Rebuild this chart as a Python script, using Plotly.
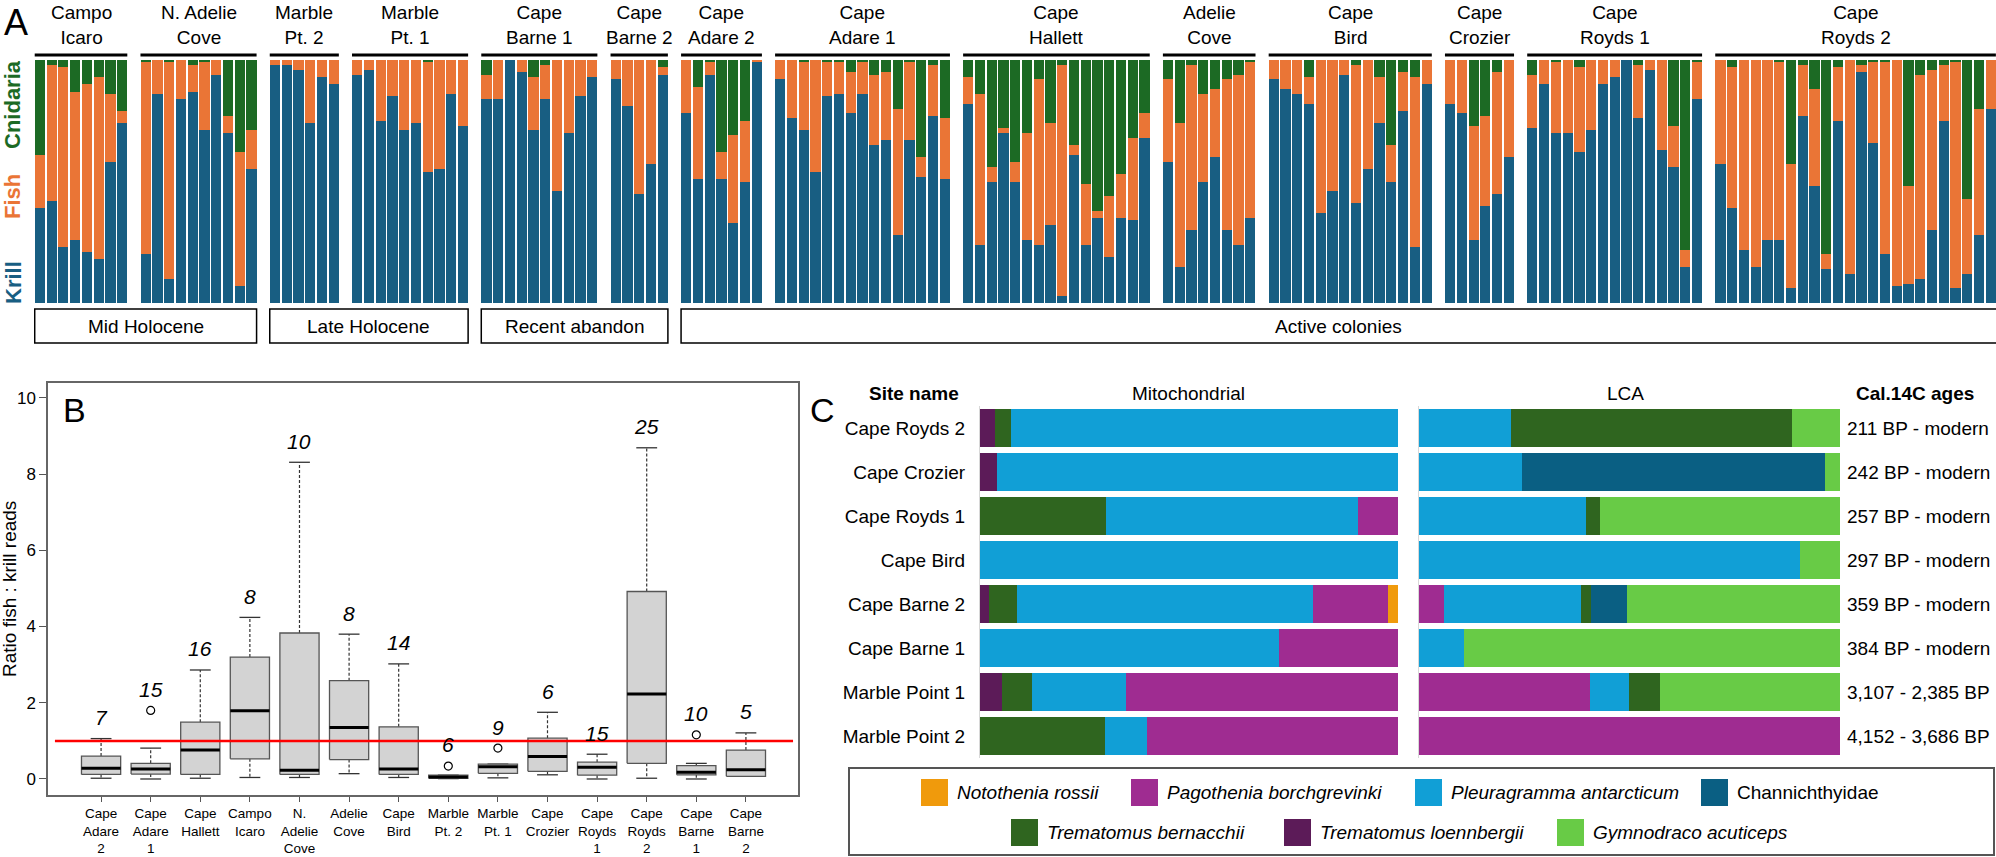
import plotly.graph_objects as go

W, H = 1996, 857
FONT = "Liberation Sans, Arial, sans-serif"

# ── Panel A: diet proportions (%) per sample, grouped by site ────────────────
A_SITES = ["Campo<br>Icaro", "N. Adelie<br>Cove", "Marble<br>Pt. 2", "Marble<br>Pt. 1",
           "Cape<br>Barne 1", "Cape<br>Barne 2", "Cape<br>Adare 2", "Cape<br>Adare 1",
           "Cape<br>Hallett", "Adelie<br>Cove", "Cape<br>Bird", "Cape<br>Crozier",
           "Cape<br>Royds 1", "Cape<br>Royds 2"]

KRILL = [
    [39, 42, 23, 26, 21, 18, 58, 74],
    [20, 86, 10, 84, 87, 71, 94, 70, 7, 55],
    [98, 98, 96, 74, 93, 90],
    [94, 96, 75, 85, 71, 74, 54, 55, 86, 73],
    [84, 84, 100, 95, 71, 84, 46, 70, 85, 93],
    [92, 81, 45, 57, 94],
    [78, 51, 94, 51, 33, 50, 99],
    [92, 76, 71, 54, 85, 86, 78, 86, 65, 67, 28, 67, 52, 77, 51],
    [82, 24, 50, 70, 50, 26, 24, 32, 3, 61, 24, 35, 19, 35, 34, 68],
    [58, 15, 30, 50, 60, 30, 24, 35],
    [92, 88, 86, 82, 37, 46, 94, 41, 55, 74, 50, 79, 23, 90],
    [82, 78, 26, 40, 45, 60],
    [72, 90, 70, 70, 62, 71, 90, 93, 100, 76, 96, 63, 56, 15, 84],
    [57, 39, 22, 15, 26, 26, 6, 77, 48, 14, 75, 12, 95, 66, 20, 7, 8, 10, 30, 75, 6, 12, 28, 80],
]
FISH = [
    [22, 56, 74, 61, 69, 75, 28, 5],
    [79, 14, 89, 16, 11, 28, 6, 7, 55, 16],
    [2, 2, 4, 26, 7, 10],
    [6, 4, 25, 15, 29, 26, 45, 45, 14, 27],
    [10, 16, 0, 5, 22, 14, 54, 30, 15, 7],
    [8, 19, 55, 43, 3],
    [22, 38, 5, 11, 36, 25, 1],
    [8, 24, 28, 46, 14, 13, 17, 13, 29, 28, 52, 32, 8, 21, 25],
    [11, 62, 6, 2, 8, 44, 68, 42, 95, 4, 25, 3, 25, 18, 34, 10],
    [34, 59, 68, 36, 28, 62, 70, 64],
    [8, 12, 14, 11, 63, 54, 6, 57, 45, 19, 15, 16, 70, 10],
    [18, 22, 47, 37, 50, 40],
    [22, 10, 29, 30, 35, 29, 10, 7, 0, 22, 4, 37, 17, 7, 15],
    [43, 58, 78, 85, 74, 73, 51, 21, 40, 6, 22, 88, 3, 33, 79, 93, 40, 84, 66, 23, 93, 31, 52, 20],
]
CNIDARIA = [
    [39, 2, 3, 13, 10, 7, 14, 21],
    [1, 0, 1, 0, 2, 1, 0, 23, 38, 29],
    [0, 0, 0, 0, 0, 0],
    [0, 0, 0, 0, 0, 0, 1, 0, 0, 0],
    [6, 0, 0, 0, 7, 2, 0, 0, 0, 0],
    [0, 0, 0, 0, 3],
    [0, 11, 1, 38, 31, 25, 0],
    [0, 0, 1, 0, 1, 1, 5, 1, 6, 5, 20, 1, 40, 2, 24],
    [7, 14, 44, 28, 42, 30, 8, 26, 2, 35, 51, 62, 56, 47, 32, 22],
    [8, 26, 2, 14, 12, 8, 6, 1],
    [0, 0, 0, 7, 0, 0, 0, 2, 0, 7, 35, 5, 7, 0],
    [0, 0, 27, 23, 5, 0],
    [6, 0, 1, 0, 3, 0, 0, 0, 0, 2, 0, 0, 27, 78, 1],
    [0, 3, 0, 0, 0, 1, 43, 2, 12, 80, 3, 0, 2, 1, 1, 0, 52, 6, 4, 2, 1, 57, 20, 0],
]
PERIODS = ["Mid Holocene", "Late Holocene", "Recent abandon", "Active colonies"]
PERIOD_NSITES = [2, 2, 2, 8]

# ── Panel B: fish:krill ratio box statistics ─────────────────────────────────
B_SITES = ["Cape<br>Adare<br>2", "Cape<br>Adare<br>1", "Cape<br>Hallett", "Campo<br>Icaro",
           "N.<br>Adelie<br>Cove", "Adelie<br>Cove", "Cape<br>Bird", "Marble<br>Pt. 2",
           "Marble<br>Pt. 1", "Cape<br>Crozier", "Cape<br>Royds<br>1", "Cape<br>Royds<br>2",
           "Cape<br>Barne<br>1", "Cape<br>Barne<br>2"]
B_LOWER = [0.02, 0.00, 0.02, 0.04, 0.04, 0.14, 0.04, 0.01, 0.03, 0.11, 0.00, 0.02, 0.00, 0.07]
B_Q1 = [0.12, 0.13, 0.12, 0.53, 0.12, 0.51, 0.12, 0.02, 0.15, 0.20, 0.10, 0.41, 0.11, 0.07]
B_MEDIAN = [0.28, 0.26, 0.76, 1.79, 0.23, 1.35, 0.26, 0.05, 0.32, 0.59, 0.31, 2.23, 0.18, 0.24]
B_Q3 = [0.60, 0.41, 1.49, 3.20, 3.83, 2.58, 1.37, 0.10, 0.39, 1.07, 0.44, 4.92, 0.35, 0.76]
B_UPPER = [1.06, 0.81, 2.86, 4.24, 8.31, 3.80, 3.02, 0.10, 0.39, 1.75, 0.65, 8.69, 0.41, 1.21]
B_N = [7, 15, 16, 8, 10, 8, 14, 6, 9, 6, 15, 25, 10, 5]
B_OUTLIER_SITE = [1, 7, 8, 12]
B_OUTLIER_VAL = [1.80, 0.34, 0.81, 1.16]

# ── Panel C: fish taxa composition (%) ───────────────────────────────────────
C_SITES = ["Cape Royds 2", "Cape Crozier", "Cape Royds 1", "Cape Bird",
           "Cape Barne 2", "Cape Barne 1", "Marble Point 1", "Marble Point 2"]
C_AGES = ["211 BP - modern", "242 BP - modern", "257 BP - modern", "297 BP - modern",
          "359 BP - modern", "384 BP - modern", "3,107 - 2,385 BP", "4,152 - 3,686 BP"]

MITO_LOENNBERGII = [3.6, 4.1, 0, 0, 2.2, 0, 5.3, 0]
MITO_BERNACCHII = [3.7, 0, 30.1, 0, 6.7, 0, 7.1, 30.0]
MITO_PLEURAGRAMMA = [92.7, 95.9, 60.4, 100, 70.7, 71.5, 22.5, 10.0]
MITO_PAGOTHENIA = [0, 0, 9.5, 0, 18.0, 28.5, 65.1, 60.0]
MITO_ROSSII = [0, 0, 0, 0, 2.4, 0, 0, 0]

LCA_PAGOTHENIA = [0, 0, 0, 0, 6.0, 0, 40.7, 100]
LCA_PLEURAGRAMMA = [21.9, 24.4, 39.7, 90.5, 32.5, 10.7, 9.2, 0]
LCA_BERNACCHII = [66.8, 0, 3.4, 0, 2.3, 0, 7.3, 0]
LCA_CHANNICHTHYIDAE = [0, 72.1, 0, 0, 8.7, 0, 0, 0]
LCA_GYMNODRACO = [11.3, 3.5, 56.9, 9.5, 50.5, 89.3, 42.8, 0]

# ── Colours ──────────────────────────────────────────────────────────────────
COL_KRILL, COL_FISH, COL_CNID = "#185E82", "#EA7536", "#1C6A24"
TAXA = {
    "rossii":       ("<i>Notothenia rossii</i>", "#F09A0C"),
    "pagothenia":   ("<i>Pagothenia borchgrevinki</i>", "#9F2C91"),
    "pleuragramma": ("<i>Pleuragramma antarcticum</i>", "#119FD6"),
    "channi":       ("Channichthyidae", "#0A5F83"),
    "bernacchii":   ("<i>Trematomus bernacchii</i>", "#2F651F"),
    "loennbergii":  ("<i>Trematomus loennbergii</i>", "#5C1B58"),
    "gymnodraco":   ("<i>Gymnodraco acuticeps</i>", "#68CB46"),
}


def px_x(v):
    return v / W


def px_y(v):
    return 1 - v / H


def note(text, x, y, xref="paper", yref="paper", xanchor="center", yanchor="middle", **kw):
    return dict(text=text, x=x, y=y, xref=xref, yref=yref, xanchor=xanchor,
                yanchor=yanchor, showarrow=False, **kw)


fig = go.Figure()
shapes, annots = [], []

# ── Panel A ─────────────────────────────────────────────────────────────────
pos, kr, fi, cn, starts, ends = [], [], [], [], [], []
start = 0
for k, f, c in zip(KRILL, FISH, CNIDARIA):
    starts.append(start)
    pos += [start + i for i in range(len(k))]
    kr += k
    fi += f
    cn += c
    ends.append(start + len(k) - 1)
    start += len(k) + 1

for vals, col in [(kr, COL_KRILL), (fi, COL_FISH), (cn, COL_CNID)]:
    fig.add_trace(go.Bar(x=pos, y=vals, marker=dict(color=col, line_width=0),
                         xaxis="x", yaxis="y", showlegend=False))

for name, s, e in zip(A_SITES, starts, ends):
    shapes.append(dict(type="line", xref="x", yref="paper", x0=s - 0.44, x1=e + 0.44,
                       y0=px_y(55), y1=px_y(55), line=dict(color="black", width=3)))
    annots.append(note(name, (s + e) / 2, px_y(50), xref="x", yanchor="bottom",
                       font=dict(size=19)))

si = 0
for label, n in zip(PERIODS, PERIOD_NSITES):
    x0, x1 = starts[si] - 0.44, ends[si + n - 1] + 0.44
    last = si + n == len(starts)
    shapes.append(dict(type="rect", xref="x", yref="paper", x0=x0, x1=x1 + (3 if last else 0),
                       y0=px_y(343), y1=px_y(309), line=dict(color="black", width=1.5)))
    annots.append(note(label, (x0 + x1) / 2, px_y(326), xref="x", font=dict(size=19)))
    si += n

for txt, col, yc in [("Cnidaria", COL_CNID, 105), ("Fish", COL_FISH, 197), ("Krill", COL_KRILL, 283)]:
    annots.append(note(f"<b>{txt}</b>", px_x(13), px_y(yc), textangle=-90,
                       font=dict(size=22, color=col)))
annots.append(note("A", px_x(2), px_y(0), xanchor="left", yanchor="top", font=dict(size=36)))

# ── Panel B ─────────────────────────────────────────────────────────────────
HW, CAP = 0.395, 0.21
bx, by, wx, wy, cx, cy, mx, my = [], [], [], [], [], [], [], []
for i in range(len(B_SITES)):
    bx += [i - HW, i + HW, i + HW, i - HW, i - HW, None]
    by += [B_Q1[i], B_Q1[i], B_Q3[i], B_Q3[i], B_Q1[i], None]
    wx += [i, i, None, i, i, None]
    wy += [B_Q3[i], B_UPPER[i], None, B_Q1[i], B_LOWER[i], None]
    cx += [i - CAP, i + CAP, None, i - CAP, i + CAP, None]
    cy += [B_UPPER[i], B_UPPER[i], None, B_LOWER[i], B_LOWER[i], None]
    mx += [i - HW, i + HW, None]
    my += [B_MEDIAN[i], B_MEDIAN[i], None]

fig.add_trace(go.Scatter(x=wx, y=wy, mode="lines", line=dict(color="#333", width=1.2, dash="3px,2px"),
                         xaxis="x2", yaxis="y2", showlegend=False, hoverinfo="skip"))
fig.add_trace(go.Scatter(x=cx, y=cy, mode="lines", line=dict(color="#333", width=1.3),
                         xaxis="x2", yaxis="y2", showlegend=False, hoverinfo="skip"))
fig.add_trace(go.Scatter(x=bx, y=by, mode="lines", fill="toself", fillcolor="#D3D3D3",
                         line=dict(color="#555", width=1.3), xaxis="x2", yaxis="y2",
                         showlegend=False, hoverinfo="skip"))
fig.add_trace(go.Scatter(x=mx, y=my, mode="lines", line=dict(color="black", width=3),
                         xaxis="x2", yaxis="y2", showlegend=False, hoverinfo="skip"))
fig.add_trace(go.Scatter(x=B_OUTLIER_SITE, y=B_OUTLIER_VAL, mode="markers",
                         marker=dict(symbol="circle-open", size=8, color="black", line_width=1.2),
                         xaxis="x2", yaxis="y2", showlegend=False))

top = list(B_UPPER)
for s, v in zip(B_OUTLIER_SITE, B_OUTLIER_VAL):
    top[s] = max(top[s], v)
for i, n in enumerate(B_N):
    annots.append(note(f"<i>{n}</i>", i, top[i] + 0.2, xref="x2", yref="y2", yanchor="bottom",
                       font=dict(size=21)))

shapes.append(dict(type="line", xref="x2", yref="y2", x0=-0.93, x1=13.95, y0=1, y1=1,
                   line=dict(color="#FF0000", width=2.5)))
annots.append(note("B", px_x(61), px_y(410), xanchor="left", font=dict(size=34)))
annots.append(note("Ratio fish : krill reads", px_x(9), px_y(589), textangle=-90,
                   font=dict(size=19)))

# ── Panel C ─────────────────────────────────────────────────────────────────
for key, vals in [("loennbergii", MITO_LOENNBERGII), ("bernacchii", MITO_BERNACCHII),
                  ("pleuragramma", MITO_PLEURAGRAMMA), ("pagothenia", MITO_PAGOTHENIA),
                  ("rossii", MITO_ROSSII)]:
    fig.add_trace(go.Bar(y=C_SITES, x=vals, orientation="h", marker=dict(color=TAXA[key][1], line_width=0),
                         xaxis="x3", yaxis="y3", showlegend=False))
for key, vals in [("pagothenia", LCA_PAGOTHENIA), ("pleuragramma", LCA_PLEURAGRAMMA),
                  ("bernacchii", LCA_BERNACCHII), ("channi", LCA_CHANNICHTHYIDAE),
                  ("gymnodraco", LCA_GYMNODRACO)]:
    fig.add_trace(go.Bar(y=C_SITES, x=vals, orientation="h", marker=dict(color=TAXA[key][1], line_width=0),
                         xaxis="x4", yaxis="y4", showlegend=False))

for site, age in zip(C_SITES, C_AGES):
    annots.append(note(age, px_x(1845), site, yref="y4", xanchor="left", font=dict(size=19)))

for txt, xc in [("<b>Site name</b>", 914), ("Mitochondrial", 1188), ("LCA", 1625), ("<b>Cal.14C ages</b>", 1915)]:
    annots.append(note(txt, px_x(xc), px_y(394), font=dict(size=19)))
annots.append(note("C", px_x(822), px_y(410), font=dict(size=34)))

# legend box
shapes.append(dict(type="rect", xref="paper", yref="paper", x0=px_x(849), x1=px_x(1994),
                   y0=px_y(855), y1=px_y(768), line=dict(color="#555", width=2)))
LEGEND_ITEMS = [("rossii", 921, 792), ("pagothenia", 1131, 792), ("pleuragramma", 1415, 792),
                ("channi", 1701, 792), ("bernacchii", 1011, 832), ("loennbergii", 1284, 832),
                ("gymnodraco", 1557, 832)]
for key, lx, ly in LEGEND_ITEMS:
    label, col = TAXA[key]
    shapes.append(dict(type="rect", xref="paper", yref="paper", x0=px_x(lx), x1=px_x(lx + 27),
                       y0=px_y(ly + 14), y1=px_y(ly - 13), fillcolor=col, line_width=0))
    annots.append(note(label, px_x(lx + 34), px_y(ly), xanchor="left", font=dict(size=19)))

# ── Layout ──────────────────────────────────────────────────────────────────
hidden = dict(showgrid=False, zeroline=False, showticklabels=False, ticks="", automargin=False)
c_ydom = [px_y(758), px_y(406)]

fig.update_layout(
    width=W, height=H,
    margin=dict(l=0, r=0, t=0, b=0, pad=0),
    paper_bgcolor="white", plot_bgcolor="white",
    font=dict(family=FONT, size=19, color="black"),
    barmode="stack", bargap=0.13,
    showlegend=False,
    xaxis=dict(domain=[px_x(34), 1], range=[-0.5, pos[-1] + 0.45], anchor="y", **hidden),
    yaxis=dict(domain=[px_y(303), px_y(60)], range=[0, 100], anchor="x", **hidden),
    xaxis2=dict(domain=[px_x(48), px_x(798)], range=[-1.07, 14.05], anchor="y2",
                tickvals=list(range(len(B_SITES))), ticktext=B_SITES, ticks="outside", ticklen=5,
                tickcolor="#555", tickfont=dict(size=13.5), showline=True, linecolor="#666",
                linewidth=1.5, mirror=True, showgrid=False, zeroline=False, automargin=False),
    yaxis2=dict(domain=[px_y(795), px_y(383)], range=[-0.42, 10.39], anchor="x2",
                tickvals=[0, 2, 4, 6, 8, 10], ticks="outside", ticklen=7, tickcolor="#555",
                tickfont=dict(size=17), showline=True, linecolor="#666", linewidth=1.5,
                mirror=True, showgrid=False, zeroline=False, automargin=False),
    xaxis3=dict(domain=[px_x(980), px_x(1398)], range=[0, 100], anchor="y3", **hidden),
    yaxis3=dict(domain=c_ydom, anchor="x3", categoryorder="array", categoryarray=C_SITES,
                autorange="reversed", ticks="", ticklabelstandoff=10, showgrid=False,
                showline=True, linecolor="#D8D8D8", linewidth=1, tickfont=dict(size=19),
                automargin=False),
    xaxis4=dict(domain=[px_x(1419), px_x(1840)], range=[0, 100], anchor="y4", **hidden),
    yaxis4=dict(domain=c_ydom, anchor="x4", categoryorder="array", categoryarray=C_SITES,
                autorange="reversed", showline=True, linecolor="#D8D8D8", linewidth=1, **hidden),
    shapes=shapes,
    annotations=annots,
)

fig.write_html("out.html", config={"displayModeBar": False},
               post_script="document.body.style.margin='0';")
